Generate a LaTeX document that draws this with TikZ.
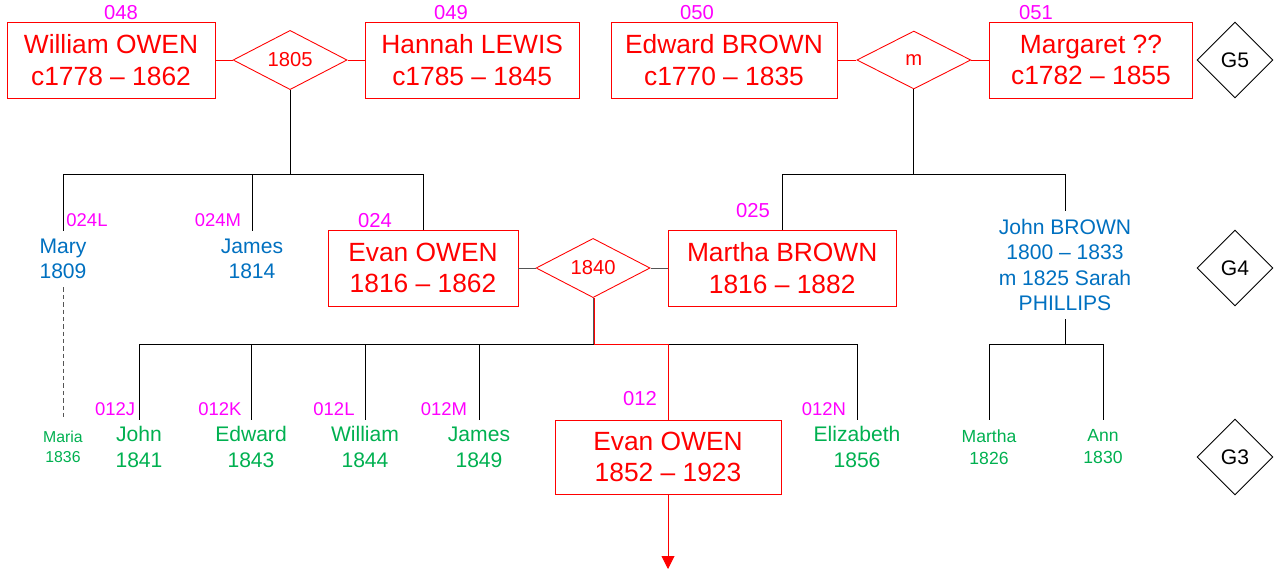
\documentclass[tikz,border=0pt]{standalone}
\usepackage{fontspec}
\setmainfont{Liberation Sans}
\usetikzlibrary{shapes.geometric, arrows.meta, positioning}

\definecolor{refpink}{HTML}{FF00FF}
\definecolor{sibblue}{HTML}{0070C0}
\definecolor{kidgreen}{HTML}{00B050}
\definecolor{linegrey}{HTML}{555555}

\begin{document}
\begin{tikzpicture}[
    x=0.02cm, y=-0.02cm,
    node distance=0.345cm,
    person/.style={rectangle, draw=red, line width=0.5pt, text=red, align=center, minimum height=1.52cm, inner sep=2pt, font=\fontsize{15}{18}\selectfont},
    union/.style={diamond, draw=red, line width=0.5pt, text=red, minimum width=2.28cm, minimum height=1.16cm, inner sep=0pt, font=\fontsize{11.5}{13}\selectfont},
    gen/.style={diamond, draw=black, line width=0.5pt, minimum width=1.52cm, minimum height=1.52cm, inner sep=0pt, font=\fontsize{12}{14}\selectfont},
    refno/.style={text=refpink, inner sep=0pt, font=\fontsize{11.5}{13}\selectfont},
    subref/.style={text=refpink, inner sep=0pt, font=\fontsize{10.5}{12}\selectfont},
    sibling/.style={text=sibblue, align=center, inner xsep=0pt, inner ysep=4.6pt, font=\fontsize{12}{14.4}\selectfont},
    kid/.style={text=kidgreen, align=center, inner xsep=0pt, inner ysep=3.6pt, font=\fontsize{12}{14.7}\selectfont},
    smallkid/.style={kid, inner ysep=5.4pt, font=\fontsize{10}{12.5}\selectfont},
    tinykid/.style={kid, inner ysep=6.5pt, font=\fontsize{9}{11.3}\selectfont},
    link/.style={line width=0.5pt},
    greylink/.style={line width=0.5pt, draw=linegrey},
    redlink/.style={line width=0.5pt, draw=red},
    dashlink/.style={line width=0.5pt, draw=linegrey, dash pattern=on 2.5pt off 1.7pt},
    descent/.style={redlink, -{Triangle[length=7.4pt, width=7.4pt]}}
]
\useasboundingbox (0,0) rectangle (1274,572);

% G5: two couples
\node (william) [person, minimum width=4.16cm] at (111,60) {William OWEN\\c1778 -- 1862};
\node (d1805) [union, right=of william] {1805};
\node (hannah) [person, minimum width=4.28cm, right=of d1805] {Hannah LEWIS\\c1785 -- 1845};
\node (edward) [person, minimum width=4.52cm] at (724,60) {Edward BROWN\\c1770 -- 1835};
\node (dm) [union, right=0.38cm of edward] {m};
\node (margaret) [person, minimum width=4.08cm, right=of dm] {Margaret ??\\c1782 -- 1855};
\node (g5) [gen] at (1235,60) {G5};

\node (r048) [refno] at (121,13) {048};
\node (r049) [refno] at (451,13) {049};
\node (r050) [refno] at (697,13) {050};
\node (r051) [refno] at (1036,13) {051};

% G4
\node (evan4) [person, minimum width=3.8cm] at (423,268) {Evan OWEN\\1816 -- 1862};
\node (d1840) [union, minimum height=1.12cm, right=of evan4] {1840};
\node (martha) [person, minimum width=4.56cm, right=of d1840] {Martha BROWN\\1816 -- 1882};
\node (mary) [sibling] at (63,259) {Mary\\1809};
\node (james4) [sibling] at (252,259) {James\\1814};
\node (johnb) [sibling] at (1065,265) {John BROWN\\1800 -- 1833\\m 1825 Sarah\\PHILLIPS};
\node (g4) [gen] at (1235,268) {G4};

\node (r024L) [subref] at (87,220) {024L};
\node (r024M) [subref] at (218,220) {024M};
\node (r024) [refno] at (375,221) {024};
\node (r025) [refno] at (753,211) {025};

% G3
\node (maria) [tinykid] at (63,447) {Maria\\1836};
\node (john3) [kid] at (139,447) {John\\1841};
\node (edward3) [kid] at (251,447) {Edward\\1843};
\node (william3) [kid] at (365,447) {William\\1844};
\node (james3) [kid] at (479,447) {James\\1849};
\node (evan3) [person, minimum width=4.52cm, minimum height=1.48cm] at (668,457) {Evan OWEN\\1852 -- 1923};
\node (eliz) [kid] at (857,447) {Elizabeth\\1856};
\node (marthab) [smallkid] at (989,447) {Martha\\1826};
\node (ann) [smallkid] at (1103,447) {Ann\\1830};
\node (g3) [gen] at (1235,457) {G3};

\node (r012J) [subref] at (115,409) {012J};
\node (r012K) [subref] at (220,409) {012K};
\node (r012L) [subref] at (334,409) {012L};
\node (r012M) [subref] at (444,409) {012M};
\node (r012) [refno] at (640,399) {012};
\node (r012N) [subref] at (824,409) {012N};

% marriages
\draw [redlink] (william) -- (d1805);
\draw [redlink] (d1805) -- (hannah);
\draw [redlink] (edward) -- (dm);
\draw [redlink] (dm) -- (margaret);
\draw [greylink] (evan4) -- (d1840);
\draw [greylink] (d1840) -- (martha);

% children bars
\coordinate (bar5) at (0,174);
\coordinate (bar4) at (0,344);
\draw [link] (d1805.south) -- (d1805.south |- bar5);
\draw [link] (mary.north) |- (evan4.north |- bar5) -- (evan4.north);
\draw [link] (james4.north) -- (james4.north |- bar5);
\draw [link] (dm.south) -- (dm.south |- bar5);
\draw [link] (martha.north) |- (johnb.north |- bar5) -- (johnb.north);

\draw [link] (john3.north) |- (eliz.north |- bar4) -- (eliz.north);
\draw [link] (edward3.north) -- (edward3.north |- bar4);
\draw [link] (william3.north) -- (william3.north |- bar4);
\draw [link] (james3.north) -- (james3.north |- bar4);
\draw [greylink] (d1840.south) -- (d1840.south |- bar4);
\draw [redlink] ([xshift=0.6pt]d1840.south) |- (evan3.north |- bar4) -- (evan3.north);

\draw [link] (johnb.south) -- (johnb.south |- bar4);
\draw [link] (marthab.north) |- (ann.north |- bar4) -- (ann.north);

\draw [dashlink] (mary.south) -- (maria.north);

% line carries on
\coordinate (onward) at (668,569);
\draw [descent] (evan3) -- (onward);

\end{tikzpicture}
\end{document}
